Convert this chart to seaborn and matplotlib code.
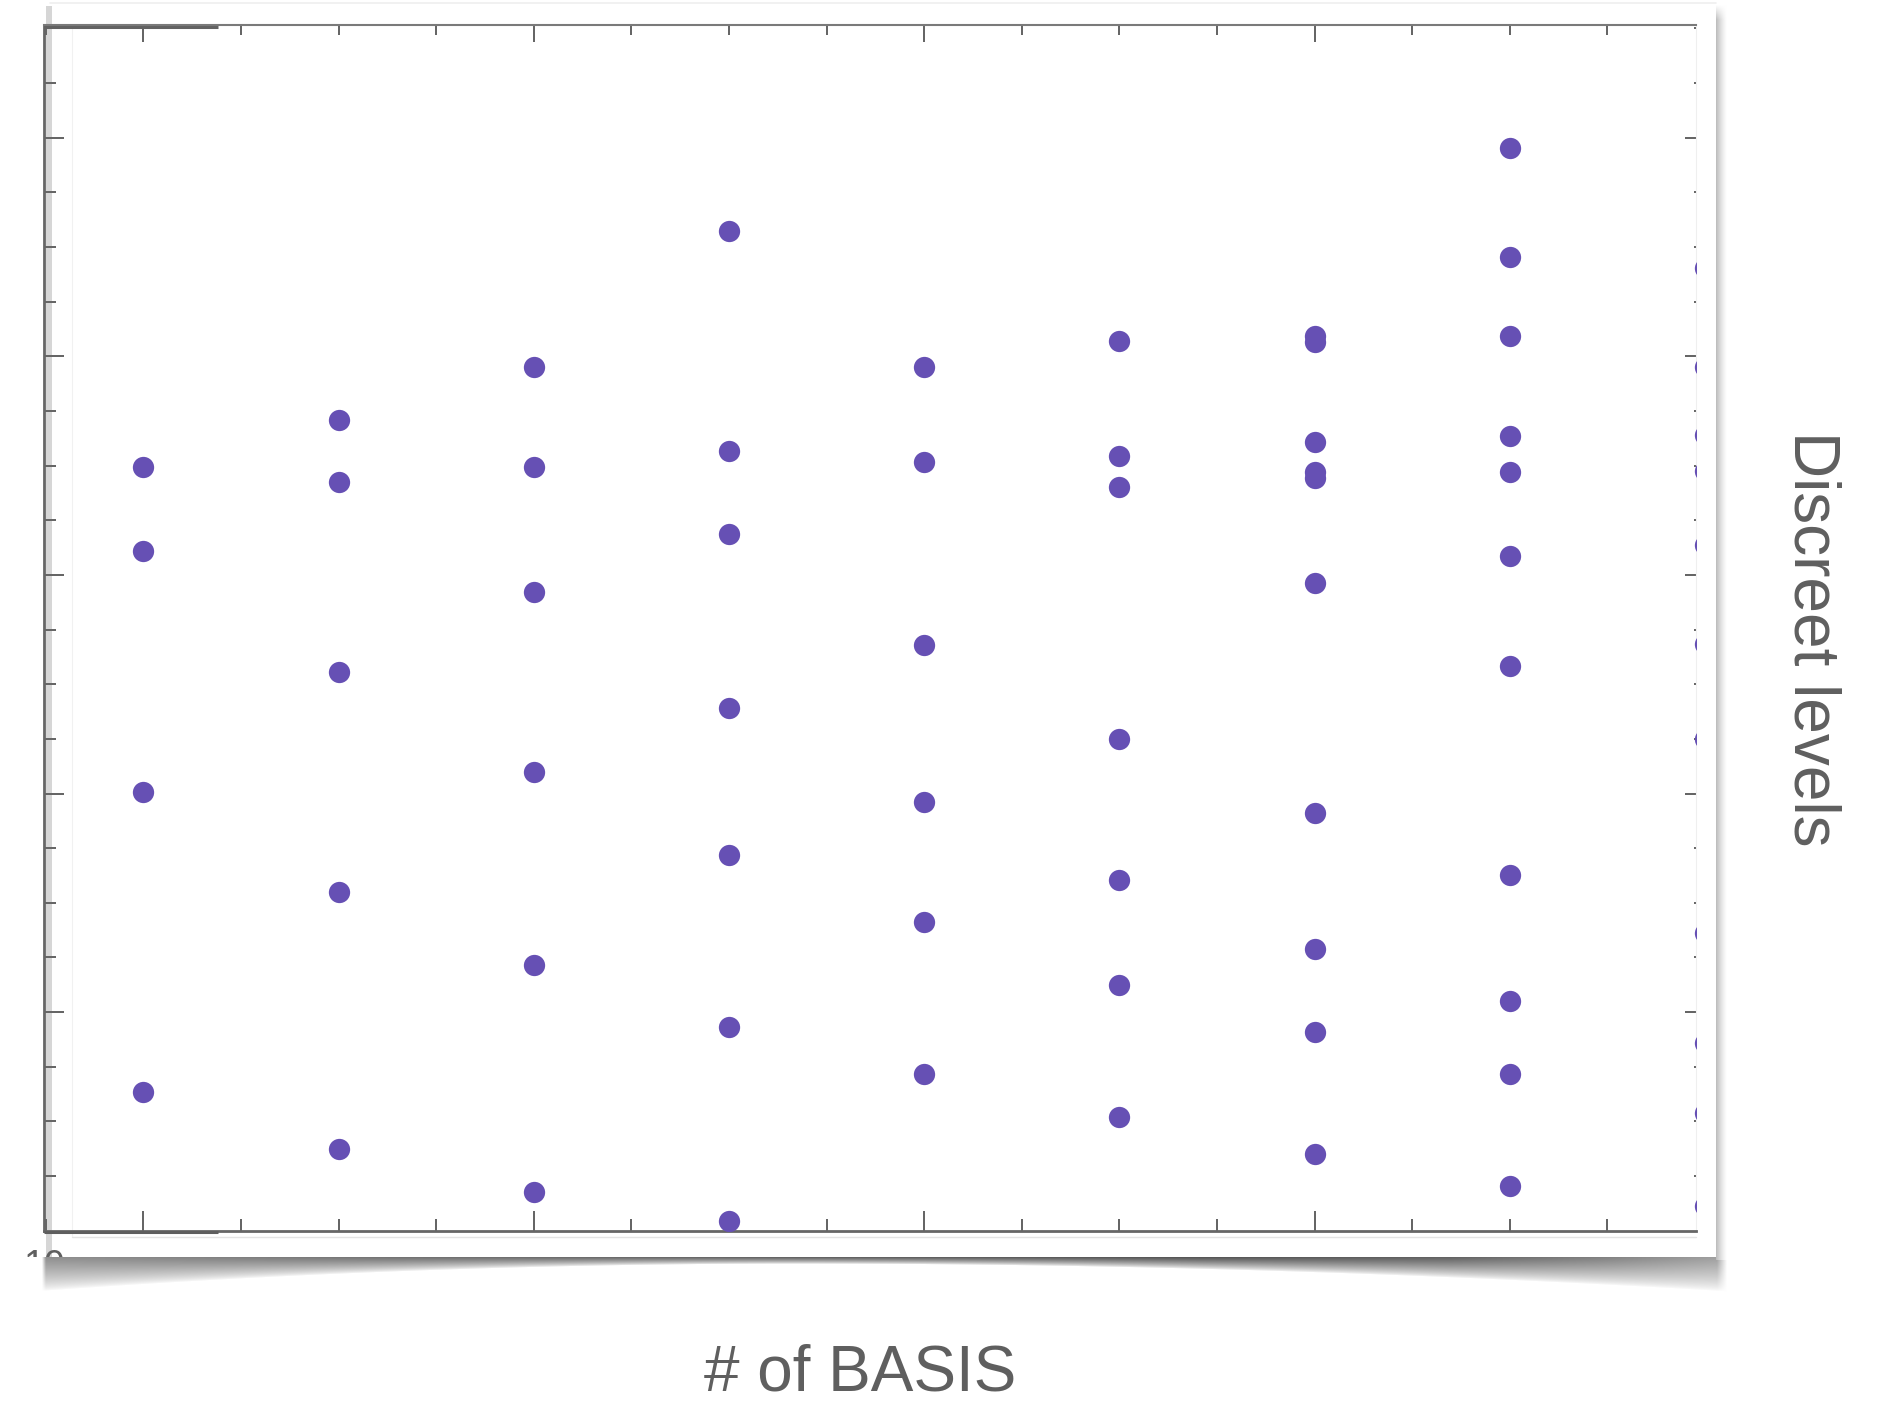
import numpy as np
import pandas as pd
import matplotlib
matplotlib.use("Agg")
import matplotlib.pyplot as plt
from matplotlib.patches import Rectangle
from matplotlib.transforms import Bbox
import seaborn as sns

# ---------------- data ----------------
n_basis = [1, 2, 3, 4, 5, 6, 7, 8, 9]
levels_b1 = [6.99, 6.22, 4.01, 1.27]
levels_b2 = [7.42, 6.85, 5.11, 3.10, 0.75]
levels_b3 = [7.90, 6.99, 5.84, 4.20, 2.43, 0.35]
levels_b4 = [9.15, 7.13, 6.37, 4.78, 3.44, 1.86, 0.09]
levels_b5 = [7.90, 7.03, 5.36, 3.92, 2.82, 1.43]
levels_b6 = [8.14, 7.09, 6.80, 4.50, 3.21, 2.25, 1.04]
levels_b7 = [8.19, 8.13, 7.22, 6.94, 6.89, 5.93, 3.82, 2.58, 1.82, 0.70]
levels_b8 = [9.91, 8.91, 8.19, 7.27, 6.94, 6.17, 5.17, 3.25, 2.10, 1.43, 0.41]
levels_b9 = [8.81, 7.90, 7.28, 6.95, 6.27, 5.37, 4.50, 2.72, 1.72, 1.08, 0.23]
all_levels = [levels_b1, levels_b2, levels_b3, levels_b4, levels_b5,
              levels_b6, levels_b7, levels_b8, levels_b9]

x_major = [1, 3, 5, 7]
x_minor = [0.5, 1.5, 2, 2.5, 3.5, 4, 4.5, 5.5, 6, 6.5, 7.5, 8, 8.5]
y_major = [2, 4, 6, 8, 10]
y_minor = [0.5, 1, 1.5, 2.5, 3, 3.5, 4.5, 5, 5.5, 6.5, 7, 7.5, 8.5, 9, 9.5,
           10.5, 11]

x_label = "# of BASIS"
y_label = "Discreet levels"

rows = [(n, v) for n, lv in zip(n_basis, all_levels) for v in lv]
df = pd.DataFrame(rows, columns=["n_basis", "level"])

# ---------------- figure ----------------
W, H, DPI = 1891, 1404, 100
sns.set_theme(style="white")
plt.rcParams["font.family"] = ["Liberation Sans", "DejaVu Sans"]

fig = plt.figure(figsize=(W / DPI, H / DPI), dpi=DPI)
fig.patch.set_facecolor("white")

# background layer (pixel coordinates, y downward)
bg = fig.add_axes([0, 0, 1, 1], zorder=0)
bg.axis("off")

# clipped tick-label remnant under the shadow
t10 = fig.text(44 / W, 1 - 1277 / H, "10", ha="center", va="baseline",
               fontsize=27, color="#5f5f5f", zorder=0)
t10.set_clip_on(True)
t10.set_clip_box(Bbox.from_extents(0, H - 1257, W, H))

# bottom curl shadow
xs = np.arange(30, 1745) + 0.5
ys = np.arange(1257, 1306) + 0.5
X, Y = np.meshgrid(xs, ys)
xc = 800.0
thick = np.where(X < xc, 7 + 27 * ((xc - X) / 756.0) ** 2,
                 7 + 27 * ((X - xc) / 916.0) ** 2)
dk = np.interp(X, [44, 400, 800, 1200, 1450, 1600, 1716],
               [0.44, 0.56, 0.64, 0.68, 0.62, 0.5, 0.38])
prof = np.clip(1 - (Y - 1257) / thick, 0, 1) ** 0.75
hx = np.clip((X - 42) / 4, 0, 1) * np.clip((1727 - X) / 10, 0, 1)
val = 1 - dk * prof * hx
img = np.dstack([val, val, val])
bg.imshow(img, extent=(30, 1745, 1306, 1257), interpolation="bilinear",
          aspect="auto", zorder=2)

# right side shadow
xs2 = np.arange(1716, 1734) + 0.5
ys2 = np.arange(5, 1260) + 0.5
X2, Y2 = np.meshgrid(xs2, ys2)
val2 = 1 - 0.27 * np.clip(1 - (X2 - 1716) / 11, 0, 1) ** 1.3 * np.clip((Y2 - 5) / 15, 0, 1)
img2 = np.dstack([val2, val2, val2])
bg.imshow(img2, extent=(1716, 1734, 1260, 5), interpolation="bilinear",
          aspect="auto", zorder=2)

# box decorations
bg.add_patch(Rectangle((45.5, 6), 6.5, 1251, color="#d6d6d6", lw=0, zorder=1))
bg.plot([50, 1716], [2.5, 2.5], color="#efefef", lw=1.2, zorder=1)
bg.plot([72, 72], [24, 1236], color="#f1f1f1", lw=0.8, zorder=1)
bg.plot([72, 1696], [1236.5, 1236.5], color="#e4e4e4", lw=1.0, zorder=1)
bg.set_xlim(0, W)
bg.set_ylim(H, 0)

# ---------------- main axes ----------------
left_px, right_px, top_px, bot_px = 44.3, 1696.0, 24.5, 1230.7
ax = fig.add_axes([left_px / W, 1 - bot_px / H, (right_px - left_px) / W,
                   (bot_px - top_px) / H], zorder=2)
ax.set_facecolor("none")

sns.scatterplot(data=df, x="n_basis", y="level", color="#6650B4", s=235,
                linewidth=0, ax=ax, legend=False, zorder=3)

ax.set_xlim(0.4928, 8.954)
ax.set_ylim(0, 11.036)
ax.set_xlabel("")
ax.set_ylabel("")

ax.set_xticks(x_major)
ax.set_xticks(x_minor, minor=True)
ax.set_yticks(y_major)
ax.set_yticks(y_minor, minor=True)
ax.tick_params(which="both", direction="in", color="#666666", width=1.44,
               labelbottom=False, labelleft=False, top=False, right=False,
               bottom=True, left=True)
ax.tick_params(which="major", length=14.4)
ax.tick_params(which="minor", length=8.6)

for side in ["left", "bottom"]:
    ax.spines[side].set_color("#666666")
    ax.spines[side].set_linewidth(2.0)
ax.spines["top"].set_color("#7a7a7a")
ax.spines["top"].set_linewidth(1.5)
ax.spines["right"].set_visible(False)

secx = ax.secondary_xaxis("top")
secx.set_xticks(x_major)
secx.set_xticks(x_minor, minor=True)
secx.tick_params(which="both", direction="in", color="#666666", width=1.44,
                 labeltop=False)
secx.tick_params(which="major", length=13)
secx.tick_params(which="minor", length=7.6)
secx.spines["top"].set_visible(False)

secy = ax.secondary_yaxis("right")
secy.set_yticks(y_major)
secy.set_yticks(y_minor, minor=True)
secy.tick_params(which="both", direction="in", color="#666666", width=1.44,
                 labelright=False)
secy.tick_params(which="major", length=7.9)
secy.tick_params(which="minor", length=1.4)
secy.spines["right"].set_color("#efefef")
secy.spines["right"].set_linewidth(0.8)

# overlay artefact segments
ov = fig.add_axes([0, 0, 1, 1], zorder=4)
ov.axis("off")
ov.set_facecolor("none")
ov.plot([44, 218], [1231.6, 1231.6], color="#5e5e5e", lw=2.2,
        solid_capstyle="butt")
ov.plot([44, 218], [26.8, 26.8], color="#626262", lw=2.2,
        solid_capstyle="butt")
ov.set_xlim(0, W)
ov.set_ylim(H, 0)

# ---------------- labels ----------------
fig.text(860.5 / W, 1 - 1390.6 / H, x_label, ha="center", va="baseline",
         fontsize=46, color="#5f5f5f")
fig.text(1794.5 / W, 1 - 639 / H, y_label, rotation=270,
         rotation_mode="anchor", ha="center", va="baseline",
         fontsize=46, color="#5f5f5f")

fig.savefig("out.png", dpi=DPI, facecolor="white")
